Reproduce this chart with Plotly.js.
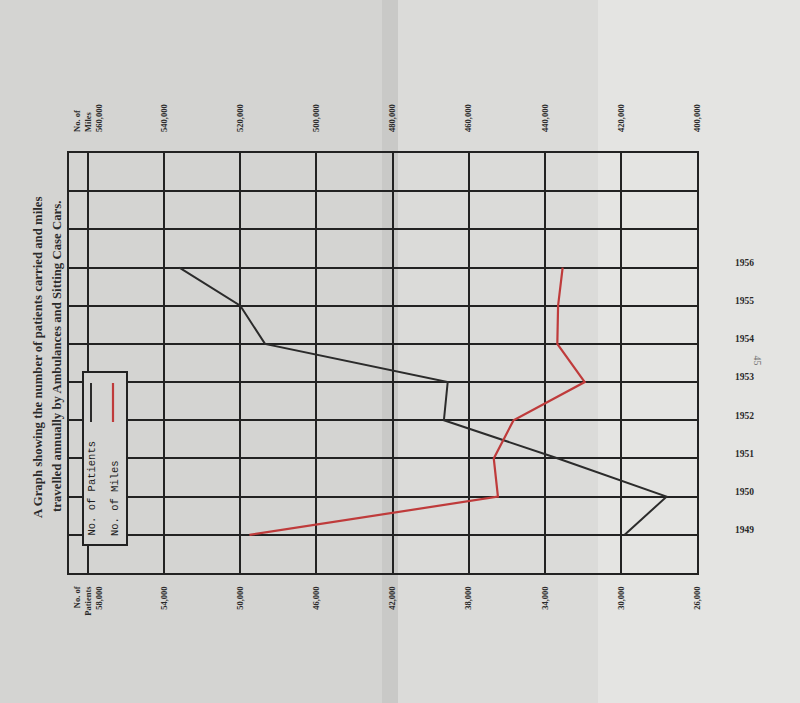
<!DOCTYPE html>
<html>
<head>
<meta charset="utf-8">
<script src="https://cdn.plot.ly/plotly-3.0.1.min.js"></script>
<style>
  html, body { margin: 0; padding: 0; background: #d6d6d4; }
  #chart { width: 800px; height: 703px; }
</style>
</head>
<body>
<div id="chart"></div>
<script>
'use strict'

// values
const years = [1949, 1950, 1951, 1952, 1953, 1954, 1955, 1956];
const patients = [29800, 27600, 33300, 39300, 39100, 48700, 50000, 53200];
const miles = [517600, 452300, 453400, 448200, 429500, 436700, 436500, 435300];

const patientTicks = [58000, 54000, 50000, 46000, 42000, 38000, 34000, 30000, 26000];
const milesTicks = [560000, 540000, 520000, 500000, 480000, 460000, 440000, 420000, 400000];
const yearGrid = [1948, 1949, 1950, 1951, 1952, 1953, 1954, 1955, 1956, 1957, 1958, 1959];

const fmt = v => v.toLocaleString('en-US');
const patientText = patientTicks.map((v, i) => i === 0 ? 'No. of<br>Patients<br>' + fmt(v) : fmt(v));
const milesText = milesTicks.map((v, i) => i === 0 ? 'No. of<br>Miles<br>' + fmt(v) : fmt(v));
const yearText = yearGrid.map(y => years.includes(y) ? String(y) : '');

// plot area in pixels: left 69, right 697, top 153, bottom 573
const px = x => (x - 69) / 628;
const py = y => (573 - y) / 420;

const ink = '#222222';
const red = '#bf3b3b';
const serif = 'Liberation Serif';

let patientTrace = {
    x: patients,
    y: years,
    xaxis: 'x',
    yaxis: 'y',
    mode: 'lines',
    name: 'No. of Patients',
    line: { color: '#2b2b2b', width: 2 },
    type: 'scatter'
}

let milesTrace = {
    x: miles,
    y: years,
    xaxis: 'x2',
    yaxis: 'y',
    mode: 'lines',
    name: 'No. of Miles',
    line: { color: red, width: 2.2 },
    type: 'scatter'
}

// paper tint and folds of the scanned page
const bands = [
    [0, 382, '#d4d4d2'],
    [382, 398, '#c9c9c7'],
    [398, 598, '#dbdbd9'],
    [598, 800, '#e4e4e2']
];
const shapes = bands.map(b => ({
    type: 'rect', layer: 'below', xref: 'paper', yref: 'paper',
    x0: px(b[0]), x1: px(b[1]), y0: py(703), y1: py(0),
    fillcolor: b[2], line: { width: 0 }
}));

// hand drawn key box
shapes.push({
    type: 'rect', layer: 'above', xref: 'paper', yref: 'paper',
    x0: px(83), x1: px(127), y0: py(545), y1: py(372),
    fillcolor: '#d5d5d3', line: { color: ink, width: 2 }
});
shapes.push({
    type: 'line', layer: 'above', xref: 'paper', yref: 'paper',
    x0: px(91), x1: px(91), y0: py(422), y1: py(383),
    line: { color: '#2b2b2b', width: 2 }
});
shapes.push({
    type: 'line', layer: 'above', xref: 'paper', yref: 'paper',
    x0: px(113), x1: px(113), y0: py(422), y1: py(383),
    line: { color: red, width: 2.2 }
});

const annotations = [
    {
        text: 'A Graph showing the number of patients carried and miles',
        xref: 'paper', yref: 'paper', x: px(29), y: py(357),
        textangle: -90, showarrow: false,
        font: { family: serif, size: 12.8, weight: 'bold', color: '#2a2a2a' }
    },
    {
        text: 'travelled annually by Ambulances and Sitting Case Cars.',
        xref: 'paper', yref: 'paper', x: px(48), y: py(357),
        textangle: -90, showarrow: false,
        font: { family: serif, size: 12.8, weight: 'bold', color: '#2a2a2a' }
    },
    {
        text: 'No. of Patients',
        xref: 'paper', yref: 'paper', x: px(91), y: py(538),
        xanchor: 'center', yanchor: 'bottom',
        textangle: -90, showarrow: false,
        font: { family: 'Liberation Mono', size: 10.5, color: '#1e1e1e' }
    },
    {
        text: 'No. of Miles',
        xref: 'paper', yref: 'paper', x: px(115), y: py(538),
        xanchor: 'center', yanchor: 'bottom',
        textangle: -90, showarrow: false,
        font: { family: 'Liberation Mono', size: 10.5, color: '#1e1e1e' }
    },
    {
        text: '45',
        xref: 'paper', yref: 'paper', x: px(765), y: py(360),
        textangle: 90, showarrow: false,
        font: { family: serif, size: 10, color: '#777777' }
    }
];

const tickFont = { family: serif, size: 8.5, weight: 'bold', color: '#2a2a2a' };

const layout = {
    width: 800,
    height: 703,
    margin: { l: 69, r: 103, t: 153, b: 130 },
    showlegend: false,
    paper_bgcolor: '#d6d6d4',
    plot_bgcolor: 'rgba(0,0,0,0)',
    font: { family: serif, color: '#2a2a2a' },
    xaxis: {
        range: [59000, 26000],
        tickvals: patientTicks,
        ticktext: patientText,
        tickangle: -90,
        ticks: '',
        ticklabelstandoff: 8,
        tickfont: tickFont,
        showgrid: true,
        gridcolor: ink,
        gridwidth: 2,
        zeroline: false,
        showline: true,
        mirror: true,
        linecolor: ink,
        linewidth: 2,
        fixedrange: true
    },
    xaxis2: {
        range: [565000, 400000],
        overlaying: 'x',
        side: 'top',
        anchor: 'y',
        tickvals: milesTicks,
        ticktext: milesText,
        tickangle: -90,
        ticks: '',
        ticklabelstandoff: 20,
        tickfont: tickFont,
        showgrid: false,
        zeroline: false,
        fixedrange: true
    },
    yaxis: {
        range: [1948, 1959],
        side: 'right',
        tickvals: yearGrid,
        ticktext: yearText,
        ticks: '',
        ticklabelstandoff: 34,
        ticklabelshift: -5,
        tickfont: { family: serif, size: 9.5, weight: 'bold', color: '#2a2a2a' },
        showgrid: true,
        gridcolor: ink,
        gridwidth: 2,
        zeroline: false,
        showline: true,
        mirror: true,
        linecolor: ink,
        linewidth: 2,
        fixedrange: true
    },
    shapes: shapes,
    annotations: annotations
}

const config = {
    displayModeBar: false,
    staticPlot: true
}

Plotly.newPlot('chart', [patientTrace, milesTrace], layout, config);
</script>
</body>
</html>
